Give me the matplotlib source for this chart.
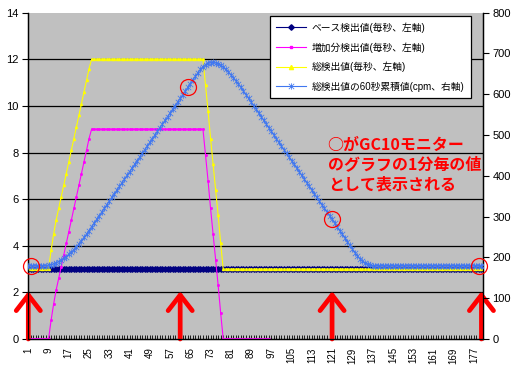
import numpy as np
import matplotlib
matplotlib.use("Agg")
import matplotlib.pyplot as plt
from matplotlib.path import Path

plt.rcParams['font.family'] = ['Liberation Sans', 'Noto Sans CJK JP', 'DejaVu Sans']

# ---- data ----
seconds = list(range(1, 182))
base = [3] * 181
incr = ([0] * 9
        + [0.8, 1.5, 2.1, 2.6, 3.1, 3.6, 4.1, 4.6, 5.1, 5.6, 6.1, 6.6, 7.1, 7.6, 8.1, 8.6, 9.0]
        + [9] * 44
        + [7.9, 6.8, 5.6, 4.5, 3.4, 2.3, 1.1, 0]
        + [0] * 103)
incr_shown = 96   # the magenta series stops at ~96 s
total = [b + d for b, d in zip(base, incr)]
cum60 = ([180] * 8
         + [181, 182, 184, 187, 190, 194, 198, 202, 208, 213, 219, 226, 233, 241, 249, 257, 266]
         + [275, 284, 293, 302, 311, 320, 329, 338, 347, 356, 365, 374, 383, 392, 401, 410,
            419, 428, 437, 446, 455, 464, 473, 482, 491, 500, 509, 518, 527, 536, 545, 554,
            563, 572, 581, 590, 599, 608, 617, 626, 635, 644, 653]
         + [661, 668, 673, 676, 677, 678, 677, 675, 671, 666, 661, 655, 648, 641, 633, 625, 617, 608]
         + [599, 590, 581, 572, 563, 554, 545, 536, 527, 518, 509, 500, 491, 482, 473, 464,
            455, 446, 437, 428, 419, 410, 401, 392, 383, 374, 365, 356, 347, 338, 329, 320,
            311, 302, 293, 284, 275, 266, 257, 248, 239, 230, 221, 212]
         + [204, 197, 191, 187, 183, 181, 180]
         + [180] * 44)

labels = ['ベース検出値(毎秒、左軸)', '増加分検出値(毎秒、左軸)',
          '総検出値(毎秒、左軸)', '総検出値の60秒累積値(cpm、右軸)']
arrow_x = [1, 61, 121, 180]
circle_x = [2, 64, 121, 179]
note = '○がGC10モニター\nのグラフの1分毎の値\nとして表示される'

# Excel-like star marker: an "x" plus a vertical bar
star = Path([(-1, -1), (1, 1), (-1, 1), (1, -1), (0, -1.2), (0, 1.2)],
            [Path.MOVETO, Path.LINETO, Path.MOVETO, Path.LINETO, Path.MOVETO, Path.LINETO])

# ---- figure ----
W, H = 515, 376
fig = plt.figure(figsize=(W / 100, H / 100), dpi=100)
L, R, T, B = 28.3, 482.7, 12.7, 339.0
ax = fig.add_axes([L / W, 1 - B / H, (R - L) / W, (B - T) / H])
ax.set_facecolor('#C0C0C0')
ax2 = ax.twinx()

x = np.array(seconds)
l1, = ax.plot(x, base, color='#000080', lw=0.8, marker='D', ms=2.8, mec='#000080', mfc='#000080', zorder=2)
l2, = ax.plot(x[:incr_shown], incr[:incr_shown], color='#FF00FF', lw=0.8, marker='s', ms=1.0,
              mec='#FF00FF', mfc='#FF00FF', zorder=3)
l3, = ax.plot(x, total, color='#FFFF00', lw=0.8, marker='^', ms=1.5, mec='#FFFF00', mfc='#FFFF00', zorder=4)
l4, = ax2.plot(x, cum60, color='#4077F0', lw=0.8, marker=star, ms=4.6, mec='#4077F0', mew=0.55, zorder=5)

ax.set_xlim(1, 180.5)
ax.set_ylim(0, 14)
ax2.set_ylim(0, 800)
ax.set_yticks(np.arange(0, 15, 2))
ax2.set_yticks(np.arange(0, 801, 100))

ticks = list(range(1, 181))
ax.set_xticks(ticks)
ax.set_xticklabels([str(t) if (t - 1) % 8 == 0 else '' for t in ticks], rotation=90, fontsize=7)
ax.tick_params(axis='x', direction='in', length=3, width=0.6, pad=6, colors='black')
ax.tick_params(axis='y', direction='out', length=4, width=0.8, labelsize=8, pad=3)
ax2.tick_params(axis='y', direction='out', length=4, width=0.8, labelsize=8, pad=3)

ax.yaxis.grid(True, color='black', lw=0.9)
ax.set_axisbelow(True)
ax.get_ygridlines()[-1].set_visible(False)
ax.get_ygridlines()[0].set_visible(False)

for a in (ax, ax2):
    a.spines['top'].set_visible(False)
    for s in ('left', 'right', 'bottom'):
        a.spines[s].set_color('black')
        a.spines[s].set_linewidth(0.9)

# red arrows and circles (annotations)
for xa in arrow_x:
    ax.annotate('', xy=(xa, 2.05), xytext=(xa, 0.0),
                arrowprops=dict(arrowstyle='->,head_length=0.8,head_width=0.62', color='#FF0000',
                                lw=3.4, mutation_scale=14, shrinkA=0, shrinkB=0),
                annotation_clip=False, zorder=6)
ax2.plot(circle_x, [cum60[i - 1] for i in circle_x], linestyle='none', marker='o', ms=11.5,
         mfc='none', mec='#FF0000', mew=0.9, zorder=7, clip_on=False)

leg = ax2.legend([l1, l2, l3, l4], labels, loc='upper left', bbox_to_anchor=(0.532, 0.99),
                 borderaxespad=0, fontsize=7.0, handlelength=3.1, handletextpad=0.55,
                 labelspacing=0.95, borderpad=0.65, fancybox=False, framealpha=1,
                 edgecolor='black', numpoints=1)
leg.get_frame().set_linewidth(0.9)
for h in leg.legend_handles:
    if h.get_marker() == '^':
        h.set_markersize(3)
    if h.get_marker() == 's':
        h.set_markersize(1.8)

fig.text(327.7 / W, 1 - 137 / H, note, color='#FF0000', fontsize=11.5, fontweight='bold',
         family=['Noto Sans CJK JP', 'DejaVu Sans'], va='top', ha='left', linespacing=1.28)

fig.savefig('out.png', dpi=100)
